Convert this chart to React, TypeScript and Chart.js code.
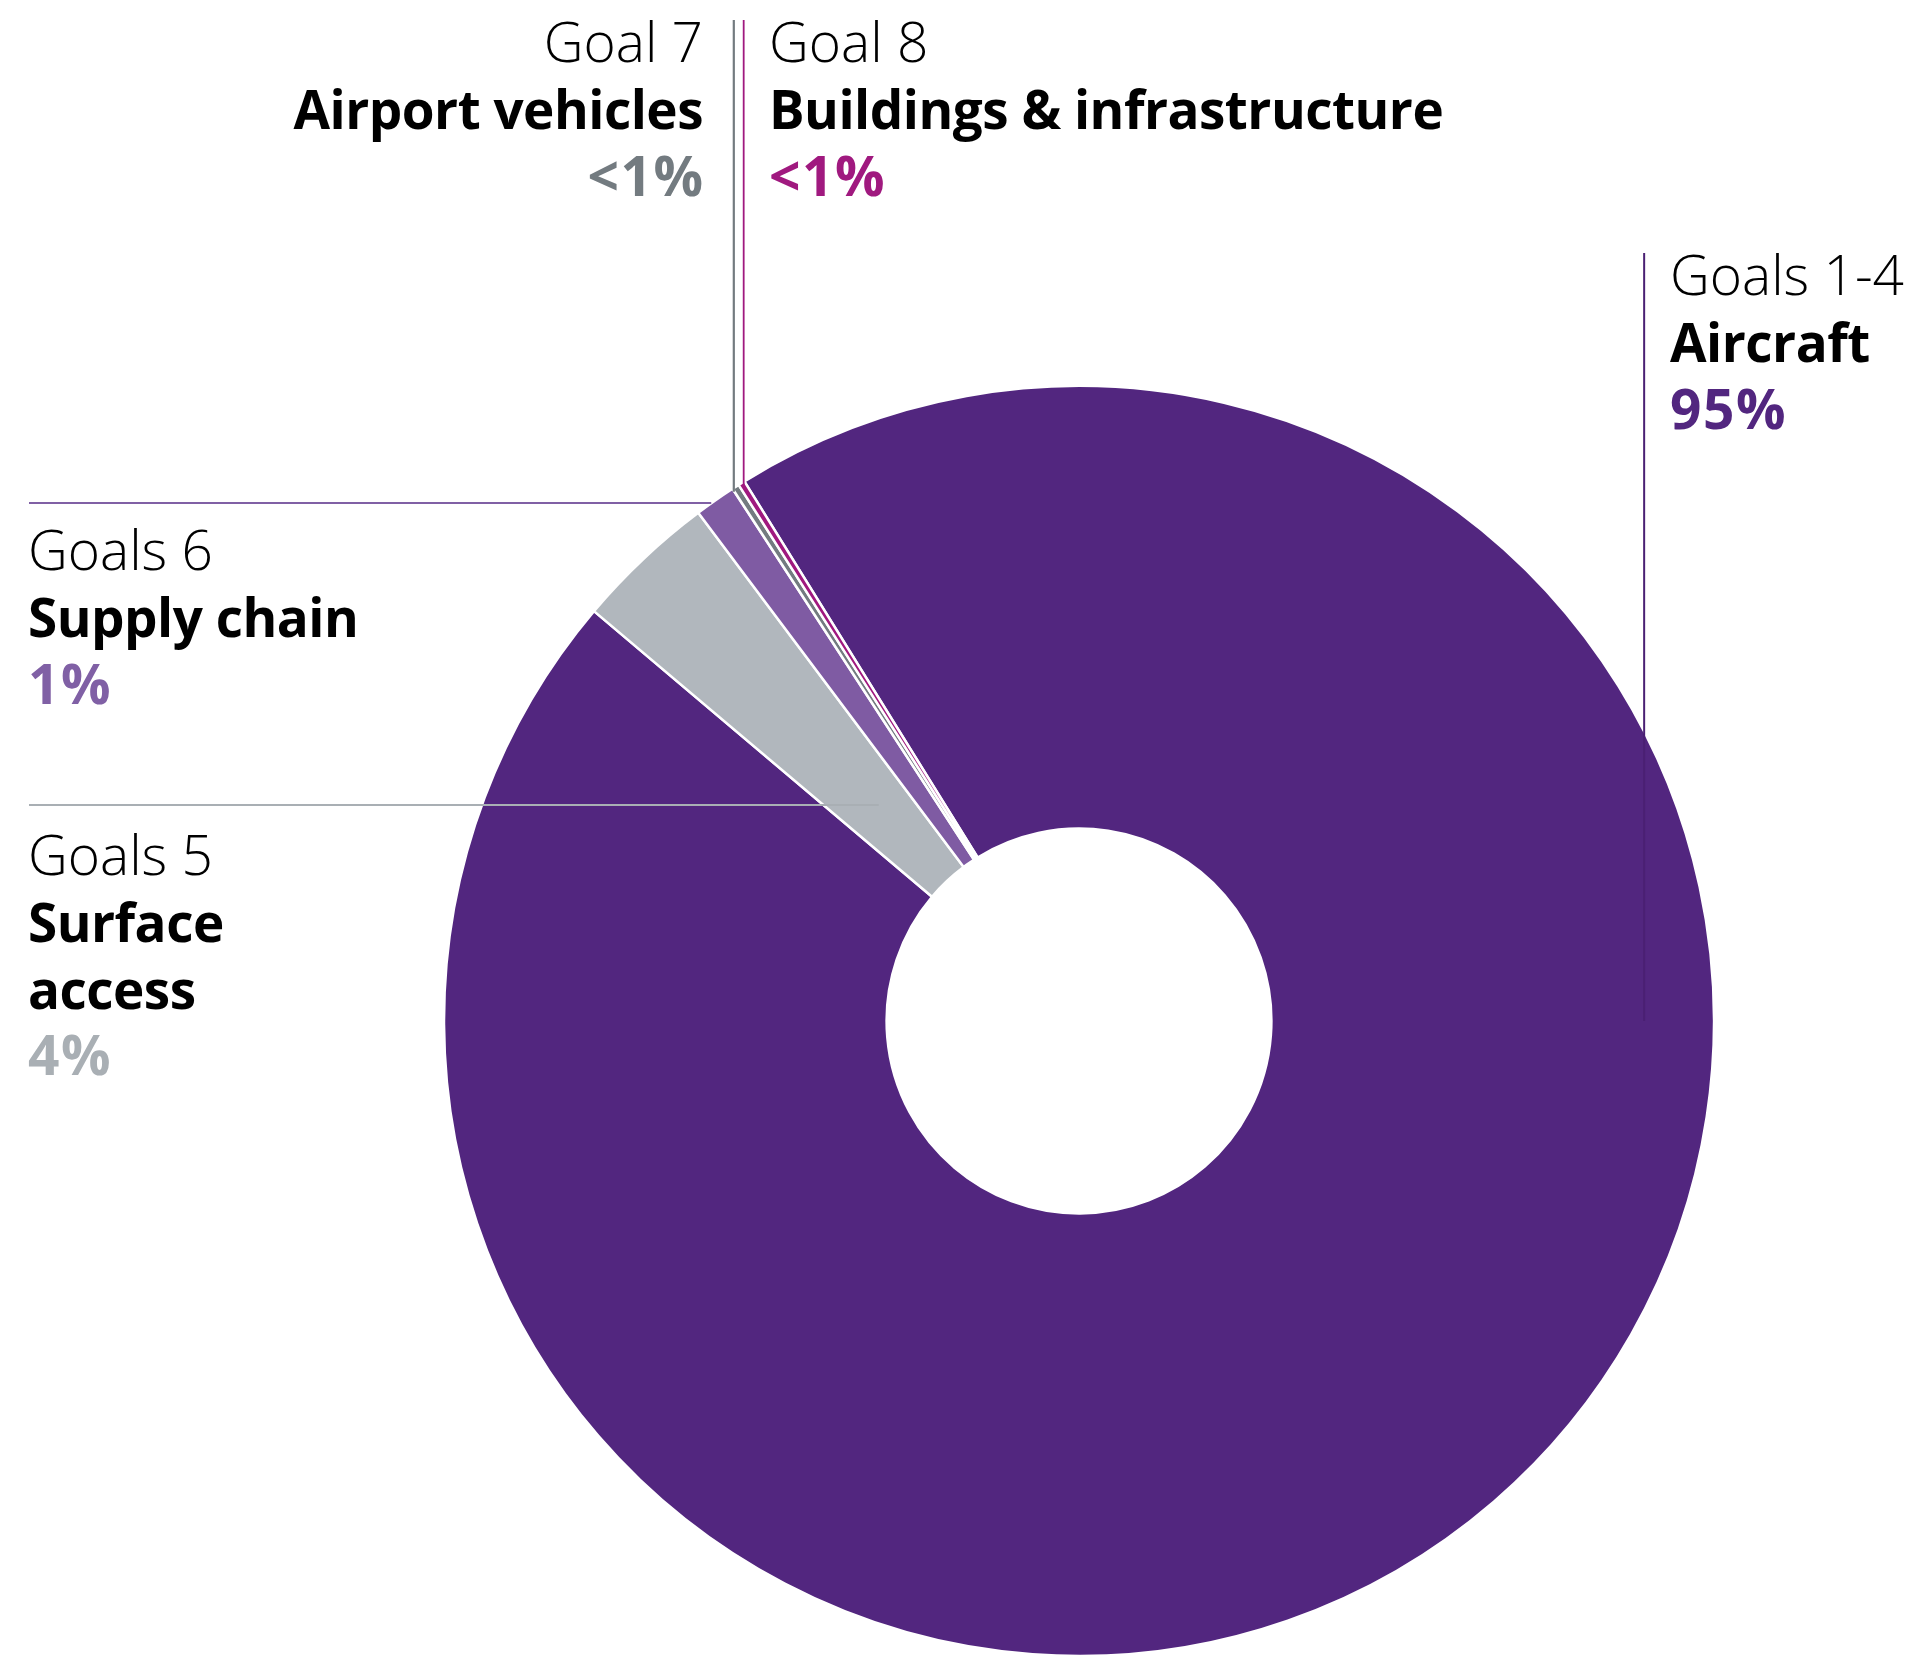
import React, { useEffect, useRef } from "react";
import { Chart, registerables } from "chart.js";

Chart.register(...registerables);

// ---- data ----
const goals = ["Goals 1-4", "Goals 5", "Goals 6", "Goal 7", "Goal 8"];
const categories = ["Aircraft", "Surface access", "Supply chain", "Airport vehicles", "Buildings & infrastructure"];
const shares = [95, 3.6, 1.05, 0.18, 0.17];
const shareLabels = ["95%", "4%", "1%", "<1%", "<1%"];

// ---- style ----
const sliceColors = ["#52267f", "#b1b7bd", "#7f5ba3", "#737b80", "#a0197f"];
const textColors = ["#52267f", "#a9afb4", "#8060a5", "#737b80", "#a0197f"];
const lineColors = ["#4a2073", "#a9afb4", "#8060a5", "#737b80", "#a0197f"];

const FONT_LIGHT = '300 55px "Open Sans"';
const FONT_BOLD = '700 53px "Open Sans"';
const FONT_PCT = '700 55px "Open Sans"';
const LINE_H = 66.8;

function wrap(ctx: CanvasRenderingContext2D, text: string, maxW: number): string[] {
  if (!maxW) return [text];
  const words = text.split(" ");
  const out: string[] = [];
  let cur = "";
  for (const w of words) {
    const t = cur ? cur + " " + w : w;
    if (cur && ctx.measureText(t).width > maxW) {
      out.push(cur);
      cur = w;
    } else cur = t;
  }
  if (cur) out.push(cur);
  return out;
}

const leaderPlugin = {
  id: "leaderLabels",
  afterDatasetsDraw(chart: any) {
    const ctx: any = chart.ctx;
    const arcs = chart.getDatasetMeta(0).data;
    if (!arcs.length) return;
    const p0 = arcs[0].getProps(["x", "y", "outerRadius", "innerRadius"], true);
    const cx = p0.x, cy = p0.y, ro = p0.outerRadius, ri = p0.innerRadius;
    const anchor = (i: number, frac: number) => {
      const a = arcs[i].getProps(["startAngle", "endAngle"], true);
      const ang = (a.startAngle + a.endAngle) / 2;
      const r = ri + (ro - ri) * frac;
      return { x: cx + Math.cos(ang) * r, y: cy + Math.sin(ang) * r };
    };
    const line = (x1: number, y1: number, x2: number, y2: number, color: string, w = 2) => {
      ctx.save();
      ctx.strokeStyle = color;
      ctx.lineWidth = w;
      ctx.beginPath();
      ctx.moveTo(x1, y1);
      ctx.lineTo(x2, y2);
      ctx.stroke();
      ctx.restore();
    };

    // leader lines
    const a3 = anchor(3, 0.995);
    line(a3.x - 3, 20, a3.x - 3, a3.y + 3, lineColors[3], 2.2);
    const a4 = anchor(4, 0.995);
    line(a4.x + 1, 20, a4.x + 1, a4.y, lineColors[4], 1.8);
    const a2 = anchor(2, 1);
    line(29, 503, a2.x - 4, 503, lineColors[2], 2);
    const a1 = anchor(1, 0.225);
    line(29, 805, a1.x, 805, lineColors[1], 2);
    const x0 = cx + ro * 0.89;
    line(x0, 253, x0, cy, lineColors[0], 2);

    // label blocks
    const blocks = [
      { i: 0, x: 1670, y: 295, align: "left", maxW: 0 },
      { i: 1, x: 28, y: 875, align: "left", maxW: 240 },
      { i: 2, x: 28, y: 570, align: "left", maxW: 0 },
      { i: 3, x: 703, y: 62, align: "right", maxW: 0 },
      { i: 4, x: 769, y: 62, align: "left", maxW: 0 },
    ];
    ctx.save();
    ctx.textBaseline = "alphabetic";
    for (const b of blocks) {
      ctx.textAlign = b.align as CanvasTextAlign;
      let y = b.y;
      ctx.font = FONT_LIGHT;
      ctx.letterSpacing = "0px";
      ctx.fillStyle = "#000";
      ctx.fillText(goals[b.i], b.x, y);
      y += LINE_H;
      ctx.font = FONT_BOLD;
      ctx.letterSpacing = "-0.5px";
      for (const ln of wrap(ctx, categories[b.i], b.maxW)) {
        ctx.fillText(ln, b.x, y);
        y += LINE_H;
      }
      ctx.font = FONT_PCT;
      ctx.letterSpacing = "1.5px";
      ctx.fillStyle = textColors[b.i];
      ctx.fillText(shareLabels[b.i], b.x + (b.align === "right" ? 1.5 : 0), y);
    }
    ctx.restore();
  },
};

export default function App() {
  const ref = useRef<HTMLCanvasElement>(null);
  useEffect(() => {
    document.body.style.margin = "0";
    const chart = new Chart(ref.current!, {
      type: "doughnut",
      data: {
        labels: categories,
        datasets: [
          {
            data: shares,
            backgroundColor: sliceColors,
            borderColor: "#ffffff",
            borderWidth: 2.5,
          },
        ],
      },
      options: {
        animation: false,
        responsive: false,
        devicePixelRatio: 1,
        rotation: -31.8,
        cutout: "30.3%",
        radius: 635,
        layout: { padding: { left: 444, right: 197, top: 386, bottom: 0 } },
        plugins: { legend: { display: false }, tooltip: { enabled: false } },
      },
      plugins: [leaderPlugin],
    });
    return () => chart.destroy();
  }, []);
  return (
    <div style={{ position: "absolute", left: 0, top: 0, width: 1911, height: 1656, background: "#fff" }}>
      <canvas ref={ref} width={1911} height={1656} style={{ width: 1911, height: 1656, display: "block" }} />
    </div>
  );
}
